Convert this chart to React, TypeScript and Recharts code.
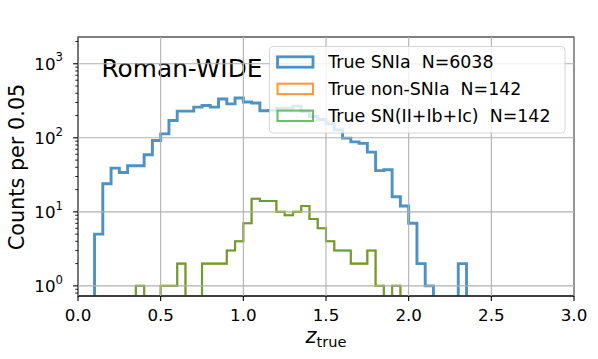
import React from 'react';
import { ComposedChart, Line, XAxis, YAxis, CartesianGrid, ReferenceArea } from 'recharts';

// Histogram bins (left edges, width 0.05) and counts per bin
const binLeftEdges = [
  0.0, 0.05, 0.1, 0.15, 0.2, 0.25, 0.3, 0.35, 0.4, 0.45,
  0.5, 0.55, 0.6, 0.65, 0.7, 0.75, 0.8, 0.85, 0.9, 0.95,
  1.0, 1.05, 1.1, 1.15, 1.2, 1.25, 1.3, 1.35, 1.4, 1.45,
  1.5, 1.55, 1.6, 1.65, 1.7, 1.75, 1.8, 1.85, 1.9, 1.95,
  2.0, 2.05, 2.1, 2.15, 2.2, 2.25, 2.3, 2.35, 2.4, 2.45,
];
const binUpperEdge = 2.5;

const snIaCounts = [
  0, 0, 5, 24, 39, 34, 42, 42, 59, 92,
  113, 171, 229, 229, 260, 273, 260, 335, 287, 345,
  305, 295, 232, 235, 252, 252, 268, 226, 194, 177,
  155, 128, 99, 88, 84, 64, 36, 37, 16, 12,
  7, 2, 1, 0, 0, 0, 2, 0, 0, 0,
];
const nonSnIaCounts = [
  0, 0, 0, 0, 0, 0, 0, 1, 0, 0,
  1, 1, 2, 0, 0, 2, 2, 2, 3, 4,
  7, 15, 14, 14, 10, 9, 10, 12, 8, 6,
  4, 3, 3, 2, 2, 3, 1, 0, 1, 0,
  0, 0, 0, 0, 0, 0, 0, 0, 0, 0,
];
const snCcCounts = [
  0, 0, 0, 0, 0, 0, 0, 1, 0, 0,
  1, 1, 2, 0, 0, 2, 2, 2, 3, 4,
  7, 15, 14, 14, 10, 9, 10, 12, 8, 6,
  4, 3, 3, 2, 2, 3, 1, 0, 1, 0,
  0, 0, 0, 0, 0, 0, 0, 0, 0, 0,
];

const xTicks = [0, 0.5, 1.0, 1.5, 2.0, 2.5, 3.0];
const yMajorTicks = [1, 10, 100, 1000];
const yMinorTicks = [0.8, 0.9, 2, 3, 4, 5, 6, 7, 8, 9, 20, 30, 40, 50, 60, 70, 80, 90, 200, 300, 400, 500, 600, 700, 800, 900, 2000];
const xDomain = [0, 3];
const yDomain = [0.73, 2300];

const legendLabels = ['True SNIa  N=6038', 'True non-SNIa  N=142', 'True SN(II+Ib+Ic)  N=142'];
const seriesColors = ['#1f77b4', '#ff7f0e', '#2ca02c'];
const panelTitle = 'Roman-WIDE';
const yLabel = 'Counts per 0.05';

const FONT = 'DejaVu Sans';
const LOG_FLOOR = 0.01; // empty bins drawn below the axis (clipped), as on a log plot

const edges = [...binLeftEdges, binUpperEdge];
const toLog = (arr: number[], i: number) => (i < arr.length && arr[i] > 0 ? arr[i] : LOG_FLOOR);
const data = edges.map((z, i) => ({
  z,
  ia: toLog(snIaCounts, i),
  nonIa: toLog(nonSnIaCounts, i),
  cc: toLog(snCcCounts, i),
}));

const yTicks = [...yMajorTicks, ...yMinorTicks].sort((a, b) => a - b);

const isMajor = (v: number) => yMajorTicks.indexOf(v) >= 0;

const YTick = (props: any) => {
  const { x, y, payload } = props;
  const v = payload.value;
  if (!isMajor(v)) {
    return <line x1={x - 2.8} x2={x} y1={y} y2={y} stroke="#000" strokeWidth={0.85} />;
  }
  const exp = Math.round(Math.log10(v));
  return (
    <g>
      <line x1={x - 4.9} x2={x} y1={y} y2={y} stroke="#000" strokeWidth={1.1} />
      <text x={x - 15} y={y + 6} textAnchor="end" fontFamily={FONT} fontSize={16.7} fill="#000">
        <tspan>10</tspan>
        <tspan dy={-8.3} fontSize={11.7}>{String(exp)}</tspan>
      </text>
    </g>
  );
};

const Legend = () => (
  <svg
    width={298}
    height={89}
    style={{ position: 'absolute', left: 269, top: 45.5, overflow: 'visible' }}
  >
    <rect x={0.5} y={0.5} width={295.5} height={86.5} rx={3.5} ry={3.5}
      fill="#fff" fillOpacity={0.8} stroke="#cccccc" strokeOpacity={0.8} strokeWidth={1} />
    {legendLabels.map((lab, i) => {
      const base = 21.8 + 26.9 * i;
      return (
        <g key={lab}>
          <rect x={8.5} y={base - 11} width={35.5} height={10.4} fill="none"
            stroke={seriesColors[i]} strokeOpacity={i === 2 ? 0.7 : 0.8}
            strokeWidth={i === 0 ? 2.8 : 2.1} />
          <text x={59.3} y={base} fontFamily={FONT} fontSize={17.4} fill="#000" style={{ whiteSpace: 'pre' }}>
            {lab}
          </text>
        </g>
      );
    })}
  </svg>
);

export default function App() {
  return (
    <div style={{ position: 'absolute', left: 0, top: 0, width: 598, height: 359, background: '#fff' }}>
      <ComposedChart
        width={598}
        height={359}
        data={data}
        margin={{ top: 37, right: 24, bottom: 0, left: 0 }}
      >
        <XAxis
          dataKey="z"
          type="number"
          domain={xDomain}
          ticks={xTicks}
          tickFormatter={(v: number) => v.toFixed(1)}
          height={63}
          stroke="#000"
          tickSize={5}
          tickMargin={8}
          tick={{ fill: '#000', fontSize: 16.7, fontFamily: FONT }}
          axisLine={{ stroke: '#000', strokeWidth: 1.1 }}
          tickLine={{ stroke: '#000', strokeWidth: 1.1 }}
          interval={0}
        />
        <YAxis
          type="number"
          scale="log"
          domain={yDomain}
          allowDataOverflow
          ticks={yTicks}
          interval={0}
          width={78}
          tickSize={0}
          tickMargin={0}
          tickLine={false}
          axisLine={{ stroke: '#000', strokeWidth: 1.1 }}
          tick={<YTick />}
        />
        <Line dataKey="ia" type="stepAfter" stroke={seriesColors[0]} strokeOpacity={0.8} strokeWidth={2.9}
          dot={false} activeDot={false} isAnimationActive={false} strokeLinejoin="miter" />
        <Line dataKey="nonIa" type="stepAfter" stroke={seriesColors[1]} strokeOpacity={0.8} strokeWidth={2.1}
          dot={false} activeDot={false} isAnimationActive={false} strokeLinejoin="miter" />
        <Line dataKey="cc" type="stepAfter" stroke={seriesColors[2]} strokeOpacity={0.7} strokeWidth={2.1}
          dot={false} activeDot={false} isAnimationActive={false} strokeLinejoin="miter" />
        <CartesianGrid
          horizontalValues={yMajorTicks}
          verticalValues={xTicks}
          stroke="#b0b0b0"
          strokeWidth={1.1}
          zIndex={1000}
        />
        <ReferenceArea x1={xDomain[0]} x2={xDomain[1]} y1={yDomain[0]} y2={yDomain[1]}
          fill="none" stroke="#000" strokeWidth={1.1} ifOverflow="visible" />
        <text x={101.5} y={76.7} fontFamily={FONT} fontSize={24.8} fill="#000">{panelTitle}</text>
        <text x={24} y={167} transform="rotate(-90, 24, 167)" textAnchor="middle"
          fontFamily={FONT} fontSize={20.8} fill="#000">{yLabel}</text>
        <text x={326} y={343} textAnchor="middle" fontFamily={FONT} fontSize={20.8} fill="#000">
          <tspan fontStyle="italic">z</tspan>
          <tspan fontSize={14.6} dy={4}>true</tspan>
        </text>
      </ComposedChart>
      <Legend />
    </div>
  );
}
